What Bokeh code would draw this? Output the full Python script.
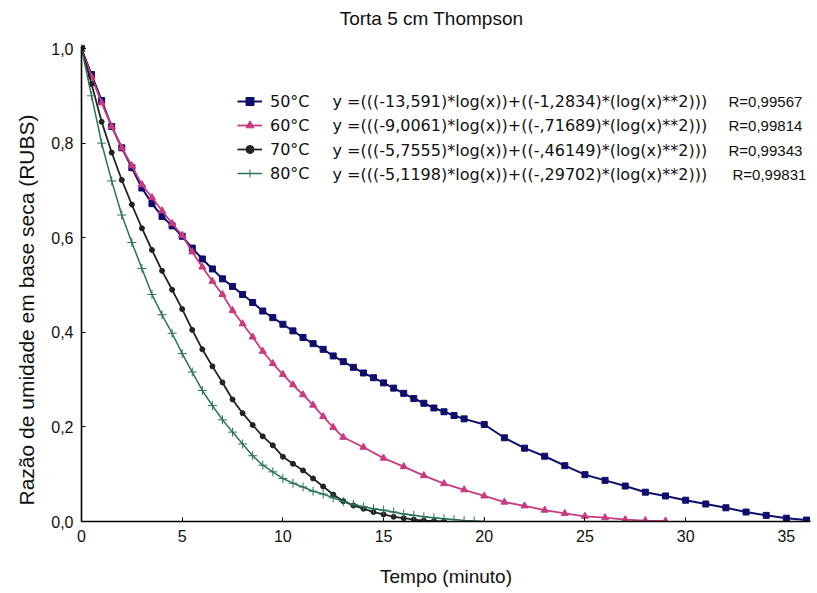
from bokeh.plotting import figure
from bokeh.models import (Range1d, FixedTicker, Legend, LegendItem, Label, Title,
                          CustomJSTickFormatter)
from bokeh.embed import file_html
from bokeh.resources import INLINE

# ---------------- data ----------------
t50 = [0, 0.5, 1, 1.5, 2, 2.5, 3, 3.5, 4, 4.5, 5, 5.5, 6, 6.5, 7, 7.5, 8, 8.5, 9, 9.5,
       10, 10.5, 11, 11.5, 12, 12.5, 13, 13.5, 14, 14.5, 15, 15.5, 16, 16.5, 17, 17.5,
       18, 18.5, 19, 20, 21, 22, 23, 24, 25, 26, 27, 28, 29, 30, 31, 32, 33, 34, 35, 36]
v50 = [1.0, 0.945, 0.89, 0.835, 0.79, 0.748, 0.705, 0.672, 0.645, 0.625, 0.603, 0.578,
       0.555, 0.534, 0.513, 0.497, 0.48, 0.463, 0.445, 0.431, 0.417, 0.403, 0.389, 0.376,
       0.364, 0.35, 0.338, 0.326, 0.314, 0.304, 0.293, 0.282, 0.271, 0.26, 0.25, 0.24,
       0.232, 0.224, 0.217, 0.205, 0.177, 0.155, 0.138, 0.118, 0.099, 0.087, 0.075, 0.062,
       0.054, 0.045, 0.037, 0.029, 0.02, 0.013, 0.007, 0.003]

t60 = [0, 0.5, 1, 1.5, 2, 2.5, 3, 3.5, 4, 4.5, 5, 5.5, 6, 6.5, 7, 7.5, 8, 8.5, 9, 9.5,
       10, 10.5, 11, 11.5, 12, 12.5, 13, 14, 15, 16, 17, 18, 19, 20, 21, 22, 23, 24, 25,
       26, 27, 28, 29]
v60 = [1.0, 0.94, 0.885, 0.835, 0.79, 0.752, 0.712, 0.685, 0.657, 0.63, 0.605, 0.57,
       0.538, 0.508, 0.48, 0.446, 0.418, 0.39, 0.36, 0.334, 0.311, 0.289, 0.268, 0.246,
       0.222, 0.199, 0.178, 0.157, 0.134, 0.116, 0.097, 0.08, 0.067, 0.054, 0.041, 0.033,
       0.024, 0.017, 0.011, 0.008, 0.004, 0.002, 0.001]

t70 = [0, 0.5, 1, 1.5, 2, 2.5, 3, 3.5, 4, 4.5, 5, 5.5, 6, 6.5, 7, 7.5, 8, 8.5, 9, 9.5,
       10, 10.5, 11, 11.5, 12, 12.5, 13, 13.5, 14, 14.5, 15, 15.5, 16, 16.5, 17, 17.5, 18]
v70 = [1.0, 0.925, 0.845, 0.78, 0.722, 0.67, 0.62, 0.574, 0.53, 0.49, 0.449, 0.405,
       0.364, 0.328, 0.294, 0.258, 0.229, 0.204, 0.18, 0.161, 0.137, 0.122, 0.108, 0.091,
       0.074, 0.057, 0.043, 0.034, 0.027, 0.02, 0.015, 0.01, 0.007, 0.004, 0.002, 0.001, 0.0]

t80 = [0, 0.5, 1, 1.5, 2, 2.5, 3, 3.5, 4, 4.5, 5, 5.5, 6, 6.5, 7, 7.5, 8, 8.5, 9, 9.5,
       10, 10.5, 11, 11.5, 12, 12.5, 13, 13.5, 14, 14.5, 15, 15.5, 16, 16.5, 17, 17.5,
       18, 18.5, 19, 19.5, 20]
v80 = [1.0, 0.9, 0.8, 0.72, 0.648, 0.59, 0.535, 0.48, 0.437, 0.398, 0.355, 0.316, 0.277,
       0.245, 0.215, 0.189, 0.164, 0.139, 0.119, 0.105, 0.091, 0.081, 0.073, 0.064, 0.058,
       0.05, 0.042, 0.036, 0.031, 0.027, 0.024, 0.02, 0.016, 0.013, 0.01, 0.008, 0.006,
       0.004, 0.002, 0.001, 0.0]

series_labels = ["50°C", "60°C", "70°C", "80°C"]
eq_texts = ["y =(((-13,591)*log(x))+((-1,2834)*(log(x)**2)))",
            "y =(((-9,0061)*log(x))+((-,71689)*(log(x)**2)))",
            "y =(((-5,7555)*log(x))+((-,46149)*(log(x)**2)))",
            "y =(((-5,1198)*log(x))+((-,29702)*(log(x)**2)))"]
r_texts = ["R=0,99567", "R=0,99814", "R=0,99343", "R=0,99831"]
x_ticks = [0, 5, 10, 15, 20, 25, 30, 35]
y_ticks = [0, 0.2, 0.4, 0.6, 0.8, 1.0]

title_text = "Torta 5 cm Thompson"
x_title = "Tempo (minuto)"
y_title = "Razão de umidade em base seca (RUBS)"

# ---------------- figure ----------------
X_END = 36.2
TOP = 5                    # frame top (px); value 1.0 sits at px 48
FRAME_H = 593 - 72 - TOP
Y_END = 1.0 * FRAME_H / (593 - 72 - 48)

p = figure(width=817, height=593, output_backend="svg", toolbar_location=None,
           x_range=Range1d(0, X_END), y_range=Range1d(0, Y_END),
           min_border_left=81, min_border_right=7, min_border_top=TOP,
           min_border_bottom=72)
p.outline_line_color = None
p.grid.visible = False
p.background_fill_color = "white"

FONT = "Liberation Sans"
for ax in (p.xaxis[0], p.yaxis[0]):
    ax.axis_line_color = "black"
    ax.axis_line_width = 1.6
    ax.major_tick_in = 4
    ax.major_tick_out = 0
    ax.minor_tick_line_color = None
    ax.major_tick_line_color = "black"
    ax.major_label_text_font = FONT
    ax.major_label_text_font_size = "16px"
    ax.major_label_text_color = "#111111"
    ax.axis_label_text_font = FONT
    ax.axis_label_text_font_style = "normal"
    ax.axis_label_text_color = "#111111"

p.yaxis.bounds = (0, 1.005)
p.xaxis.axis_label_text_font_size = "19px"
p.xaxis.ticker = FixedTicker(ticks=x_ticks)
p.yaxis.ticker = FixedTicker(ticks=y_ticks)
p.yaxis.formatter = CustomJSTickFormatter(code="return tick.toFixed(1).replace('.', ',');")
p.xaxis.axis_label = x_title
p.xaxis.major_label_standoff = 8
p.yaxis.major_label_standoff = 8
p.xaxis.axis_label_standoff = 21

# y-axis title as a side title so it can be placed along the 0..1 span
ytitle = Title(text=y_title, align="left", offset=16, standoff=22,
               text_font=FONT, text_font_size="21px", text_font_style="normal",
               text_color="#111111")
p.add_layout(ytitle, "left")

c50, c60, c70, c80 = "#0e0e6c", "#c93a80", "#222222", "#2a7356"

l50 = p.line(t50, v50, line_color=c50, line_width=2)
s50 = p.scatter(t50, v50, marker="square", size=6, fill_color=c50, line_color=c50)
l60 = p.line(t60, v60, line_color=c60, line_width=1.8)
s60 = p.scatter(t60, v60, marker="triangle", size=7, fill_color=c60, line_color=c60)
l70 = p.line(t70, v70, line_color=c70, line_width=1.8)
s70 = p.scatter(t70, v70, marker="circle", size=5, fill_color=c70, line_color=c70)
l80 = p.line(t80, v80, line_color=c80, line_width=1.5)
s80 = p.scatter(t80, v80, marker="cross", size=9, line_color=c80, line_width=1)

legend = Legend(items=[LegendItem(label=series_labels[0], renderers=[l50, s50]),
                       LegendItem(label=series_labels[1], renderers=[l60, s60]),
                       LegendItem(label=series_labels[2], renderers=[l70, s70]),
                       LegendItem(label=series_labels[3], renderers=[l80, s80])],
                location=(156, 338), border_line_color=None, background_fill_alpha=0,
                padding=0, margin=0, spacing=4, glyph_width=25, glyph_height=20,
                label_height=20, label_standoff=8,
                label_text_font="DejaVu Sans", label_text_font_size="16px",
                label_text_color="#111111")
p.add_layout(legend)

# texts placed in data coordinates derived from pixel positions
frame_w = 817 - 81 - 7
def dx(px):
    return (px - 81) * X_END / frame_w
def dy(py):
    return (593 - 72 - py) * Y_END / FRAME_H

row_px = [101, 125, 150, 174]
r_px = [728, 728, 728, 732]
for i in range(4):
    p.add_layout(Label(x=dx(332), y=dy(row_px[i]), text=eq_texts[i],
                       text_font="DejaVu Sans", text_font_size="16px",
                       text_baseline="middle", text_color="#111111"))
    p.add_layout(Label(x=dx(r_px[i]), y=dy(row_px[i]), text=r_texts[i],
                       text_font=FONT, text_font_size="15px",
                       text_baseline="middle", text_color="#111111"))

p.add_layout(Label(x=dx(431), y=dy(18), text=title_text, text_align="center",
                   text_baseline="middle", text_font=FONT, text_font_size="19px",
                   text_color="#111111"))

open("out.html", "w").write(file_html(p, INLINE))
